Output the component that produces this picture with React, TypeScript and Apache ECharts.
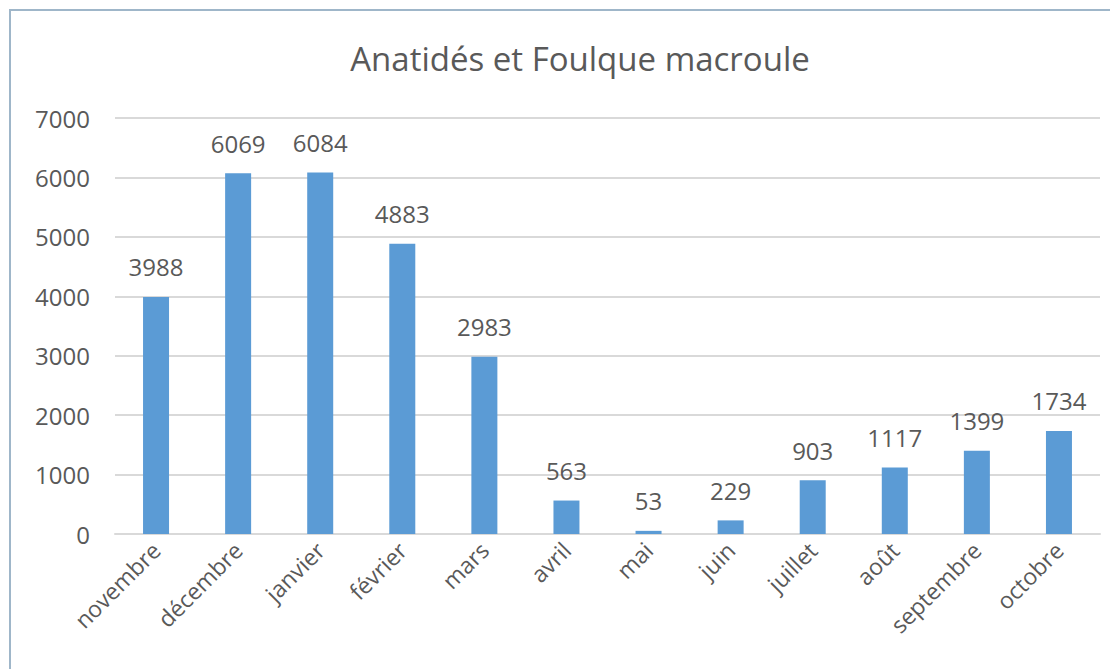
import React, { useEffect, useRef } from "react";
import * as echarts from "echarts";

const categories = ["novembre", "décembre", "janvier", "février", "mars", "avril", "mai", "juin", "juillet", "août", "septembre", "octobre"];
const values = [3988, 6069, 6084, 4883, 2983, 563, 53, 229, 903, 1117, 1399, 1734];
const title = "Anatidés et Foulque macroule";

const FONT = "'Open Sans', 'Liberation Sans', sans-serif";
const GREY = "#595959";

export default function App() {
  const ref = useRef<HTMLDivElement>(null);
  useEffect(() => {
    const chart = echarts.init(ref.current!, null, { renderer: "svg" });
    chart.setOption({
      animation: false,
      backgroundColor: "#ffffff",
      title: {
        text: title,
        left: 575,
        textAlign: "center",
        top: 37,
        textStyle: { fontFamily: FONT, fontSize: 33, fontWeight: "normal", color: GREY },
      },
      graphic: [
        {
          type: "rect",
          shape: { x: 10, y: 10, width: 1200, height: 800 },
          style: { fill: "none", stroke: "#9fb6c9", lineWidth: 2 },
          silent: true,
        },
      ],
      grid: { left: 115, right: 10, top: 118, bottom: 135, containLabel: false },
      xAxis: {
        type: "category",
        data: categories,
        axisLine: { show: true, lineStyle: { color: "#d9d9d9", width: 2 } },
        axisTick: { show: false },
        axisLabel: {
          rotate: 45,
          interval: 0,
          margin: 12,
          fontFamily: FONT,
          fontSize: 23,
          color: GREY,
        },
      },
      yAxis: {
        type: "value",
        min: 0,
        max: 7000,
        interval: 1000,
        axisLine: { show: false },
        axisTick: { show: false },
        splitLine: { lineStyle: { color: "#d9d9d9", width: 2 } },
        axisLabel: {
          margin: 25,
          fontFamily: FONT,
          fontSize: 24,
          color: GREY,
          formatter: (v: number) => String(v),
        },
      },
      series: [
        {
          type: "bar",
          data: values,
          barWidth: 26,
          itemStyle: { color: "#5b9bd5" },
          label: {
            show: true,
            position: "top",
            distance: 18,
            fontFamily: FONT,
            fontSize: 24,
            color: GREY,
          },
        },
      ],
    });
    return () => chart.dispose();
  }, []);
  return (
    <div
      ref={ref}
      style={{ position: "absolute", left: 0, top: 0, width: 1110, height: 669 }}
    />
  );
}
